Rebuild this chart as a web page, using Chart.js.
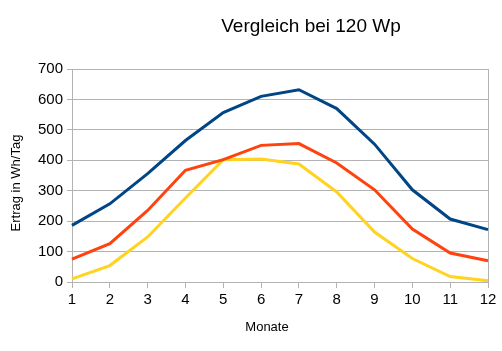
<!DOCTYPE html>
<html><head><meta charset="utf-8">
<script src="https://cdn.jsdelivr.net/npm/chart.js@4/dist/chart.umd.min.js"></script>
<style>html,body{margin:0;padding:0;background:#fff}#wrap{width:502px;height:351px}</style>
</head><body><div id="wrap"><canvas id="c" width="502" height="351"></canvas></div>
<script>
const months = ['1','2','3','4','5','6','7','8','9','10','11','12'];
const seriesBlue = [186, 257, 356, 465, 557, 610, 632, 570, 453, 303, 207, 172];
const seriesOrange = [75, 126, 235, 367, 402, 449, 455, 391, 303, 174, 95, 70];
const seriesYellow = [10, 54, 148, 276, 402, 404, 388, 296, 164, 77, 18, 4];
const yTicks = [0, 100, 200, 300, 400, 500, 600, 700];
const titleText = 'Vergleich bei 120 Wp';
const yTitle = 'Ertrag in Wh/Tag';
const xTitle = 'Monate';

const FONT = 'Liberation Sans, Arial, sans-serif';
const textPlugin = {
  id: 'texts',
  afterDraw(chart) {
    const ctx = chart.ctx;
    ctx.save();
    ctx.fillStyle = '#000';
    ctx.textAlign = 'center';
    ctx.textBaseline = 'alphabetic';
    ctx.font = '19px ' + FONT;
    ctx.fillText(titleText, 311, 31.5);
    ctx.textBaseline = 'middle';
    ctx.font = '13px ' + FONT;
    ctx.fillText(xTitle, 267, 327);
    ctx.translate(16, 183);
    ctx.rotate(-Math.PI / 2);
    ctx.fillText(yTitle, 0, 0);
    ctx.restore();
  }
};

new Chart(document.getElementById('c'), {
  type: 'line',
  data: {
    labels: months,
    datasets: [
      {data: seriesBlue, borderColor: '#004586', backgroundColor: '#004586'},
      {data: seriesOrange, borderColor: '#ff420e', backgroundColor: '#ff420e'},
      {data: seriesYellow, borderColor: '#ffd320', backgroundColor: '#ffd320'}
    ].map(d => Object.assign(d, {borderWidth: 3, pointRadius: 0, tension: 0, fill: false}))
  },
  options: {
    responsive: false,
    animation: false,
    layout: {padding: {top: 69, right: 14, left: 0, bottom: 0}},
    plugins: {legend: {display: false}, tooltip: {enabled: false}},
    scales: {
      x: {
        offset: false,
        grid: {
          drawOnChartArea: true,
          color: ctx => ctx.index === 11 ? '#b3b3b3' : 'rgba(0,0,0,0)',
          tickColor: '#b3b3b3',
          tickLength: 6
        },
        border: {color: '#b3b3b3', width: 1},
        ticks: {color: '#000', font: {family: FONT, size: 15}, padding: 3, maxRotation: 0, autoSkip: false},
        afterFit(s) { s.height = 69; }
      },
      y: {
        min: 0, max: 700,
        afterBuildTicks(s) { s.ticks = yTicks.map(v => ({value: v})); },
        grid: {color: '#b3b3b3', tickColor: '#b3b3b3', tickLength: 5},
        border: {color: '#b3b3b3', width: 1},
        ticks: {color: '#000', font: {family: FONT, size: 15}, padding: 4},
        afterFit(s) { s.width = 72; }
      }
    }
  },
  plugins: [textPlugin]
});
</script></body></html>
